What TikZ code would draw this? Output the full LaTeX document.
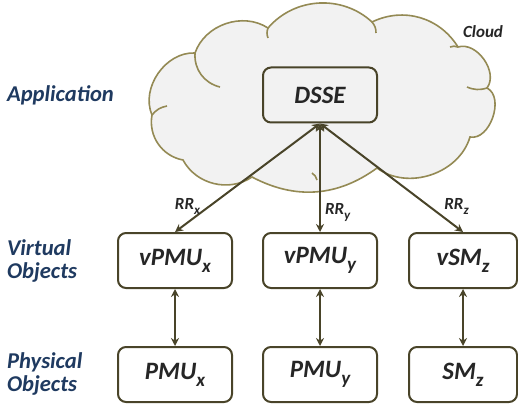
\documentclass[tikz,border=0pt]{standalone}
\usepackage{fontspec}
\setmainfont{Carlito}
\usetikzlibrary{arrows.meta}

\definecolor{olivedark}{HTML}{494429}
\definecolor{cloudline}{HTML}{948A54}
\definecolor{cloudfill}{HTML}{F2F2F2}
\definecolor{layerblue}{HTML}{1F3A60}
\definecolor{textdark}{HTML}{262626}

\newcommand{\lowidx}[1]{\raisebox{-3.5pt}{\fontsize{9.5}{9.5}\selectfont #1}}
\newcommand{\tinyidx}[1]{\raisebox{-2.5pt}{\fontsize{6.5}{6.5}\selectfont #1}}

\begin{document}
\begin{tikzpicture}[x=0.5pt,y=0.5pt,
    obj/.style={draw=olivedark, line width=1pt, rounded corners=4pt, fill=white,
      minimum width=57pt, minimum height=27.5pt, inner sep=0pt, text=textdark,
      font=\fontsize{12.5}{14}\selectfont\bfseries\itshape},
    layer/.style={anchor=west, align=left, text=layerblue,
      font=\fontsize{11.3}{11.5}\selectfont\bfseries\itshape},
    link/.style={draw=olivedark, line width=1pt,
      {Stealth[length=4pt,width=4pt]}-{Stealth[length=4pt,width=4pt]}},
    small/.style={text=textdark, inner sep=1pt,
      font=\fontsize{8.5}{10}\selectfont\bfseries\itshape}]
  \useasboundingbox (0,0) rectangle (518,407);

  % cloud
  \draw[draw=cloudline, fill=cloudfill, line width=0.8pt]
    (152,292) to[bend left=58] (195,354) to[bend left=52] (268,379)
    to[bend left=46] (372,385) to[bend left=42] (458,360)
    to[bend left=72] (487,319) to[bend left=82] (470,270)
    to[bend left=55] (377,239) to[bend left=32] (252,230)
    to[bend left=48] (183,247) to[bend left=45] cycle;
  \draw[draw=cloudline, line width=0.8pt] (152,292) to[bend left=20] (167,301);
  \draw[draw=cloudline, line width=0.8pt] (195,354) to[bend right=40] (220,320);
  \draw[draw=cloudline, line width=0.8pt] (268,379) to[bend right=20] (268,369);
  \draw[draw=cloudline, line width=0.8pt] (372,385) to[bend left=20] (376,374);
  \draw[draw=cloudline, line width=0.8pt] (458,360) to[bend right=20] (450,360);
  \draw[draw=cloudline, line width=0.8pt] (487,319) to[bend left=20] (467,320);
  \draw[draw=cloudline, line width=0.8pt] (312,234) to[bend left=20] (317,227);
  \node[small] (cloudlbl) at (483,375) {Cloud};

  % layers
  \node[layer] (app) at (0,312) {Application};
  \node[layer] (virt) at (0,146.5) {Virtual\\Objects};
  \node[layer] (phys) at (0,33) {Physical\\Objects};

  % objects
  \node[obj, fill=cloudfill] (dsse) at (320,312) {DSSE};
  \node[obj] (vpmux) at (175,146.5) {vPMU\lowidx{x}};
  \node[obj] (vpmuy) at (320,146.5) {vPMU\lowidx{y}};
  \node[obj, minimum width=54pt] (vsmz) at (463,146.5) {vSM\lowidx{z}};
  \node[obj] (pmux) at (175,32.5) {PMU\lowidx{x}};
  \node[obj] (pmuy) at (320,32.5) {PMU\lowidx{y}};
  \node[obj, minimum width=54pt] (smz) at (463,32.5) {SM\lowidx{z}};

  % links
  \draw[link] (dsse.south) -- (vpmux.north) node[small, pos=0.765, left=3pt] {RR\tinyidx{x}};
  \draw[link] (dsse.south) -- (vpmuy.north) node[small, pos=0.82, right=1pt] {RR\tinyidx{y}};
  \draw[link] (dsse.south) -- (vsmz.north) node[small, pos=0.765, right=6pt] {RR\tinyidx{z}};
  \draw[link] (vpmux.south) -- (pmux.north);
  \draw[link] (vpmuy.south) -- (pmuy.north);
  \draw[link] (vsmz.south) -- (smz.north);
\end{tikzpicture}
\end{document}
